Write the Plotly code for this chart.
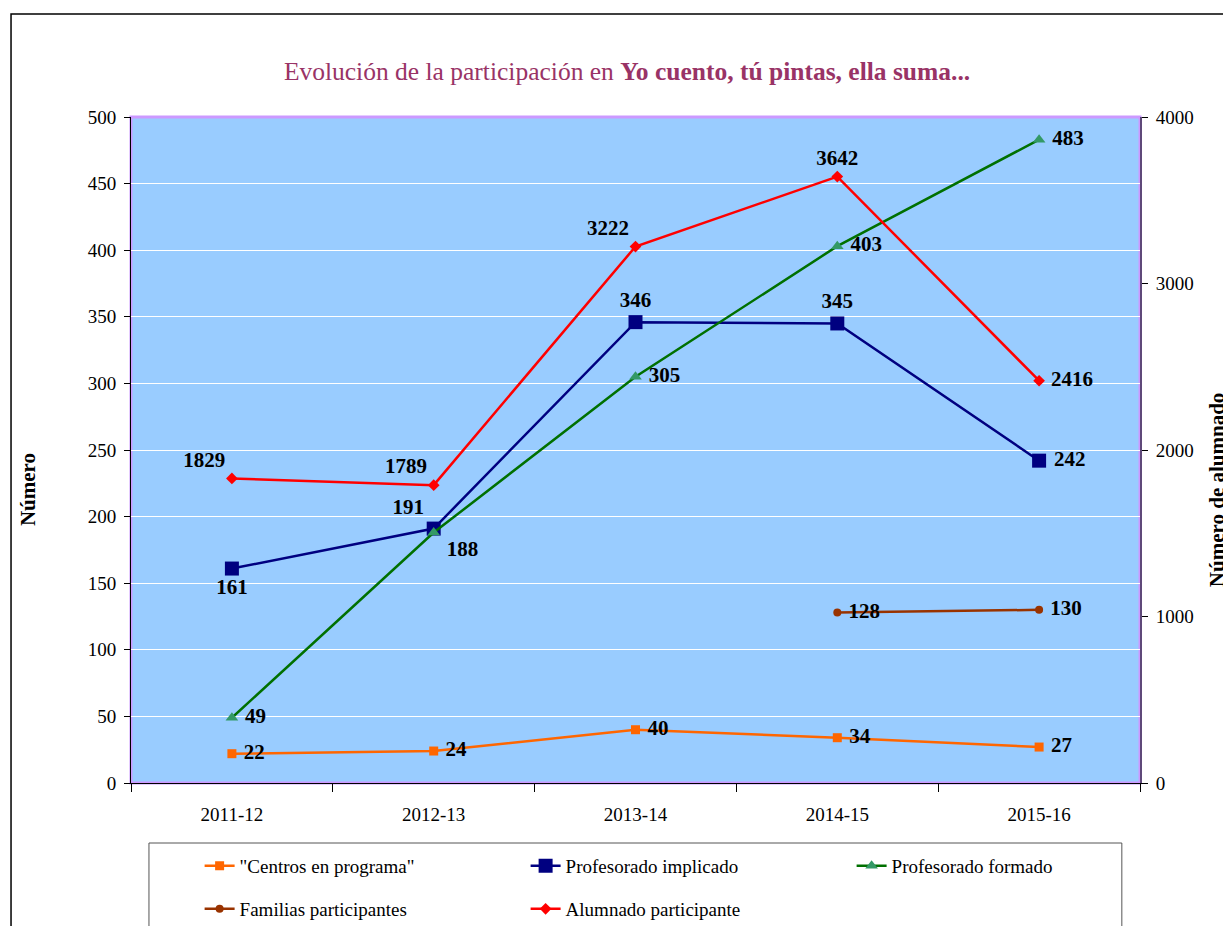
import plotly.graph_objects as go

categories = ["2011-12", "2012-13", "2013-14", "2014-15", "2015-16"]
centros = [22, 24, 40, 34, 27]
implicado = [161, 191, 346, 345, 242]
formado = [49, 188, 305, 403, 483]
familias = [None, None, None, 128, 130]
alumnado = [1829, 1789, 3222, 3642, 2416]

left_ticks = list(range(0, 501, 50))
right_ticks = [0, 1000, 2000, 3000, 4000]

FONT = "Liberation Serif"
lbl = dict(family=FONT, size=21, color="black", weight="bold")


def labels(values, positions):
    out = []
    for v, p in zip(values, positions):
        if v is None:
            out.append("")
        elif p.endswith("right"):
            out.append("\u2005" + str(v))
        else:
            out.append(str(v))
    return out


fig = go.Figure()

pos = ["middle right"] * 5
fig.add_trace(go.Scatter(
    x=categories, y=centros, name='"Centros en programa"', mode="lines+markers+text",
    line=dict(color="#FF6600", width=2.5), marker=dict(symbol="square", size=9, color="#FF6600"),
    text=labels(centros, pos), textposition=pos, textfont=lbl, legend="legend"))

pos = ["bottom center", "top left", "top center", "top center", "middle right"]
fig.add_trace(go.Scatter(
    x=categories, y=implicado, name="Profesorado implicado", mode="lines+markers+text",
    line=dict(color="#000080", width=2.5), marker=dict(symbol="square", size=14, color="#000080"),
    text=labels(implicado, pos), textposition=pos, textfont=lbl, legend="legend"))

pos = ["middle right", "bottom right", "middle right", "middle right", "middle right"]
fig.add_trace(go.Scatter(
    x=categories, y=formado, name="Profesorado formado", mode="lines+markers+text",
    line=dict(color="#007000", width=2.5), marker=dict(symbol="triangle-up", size=11, color="#339966"),
    text=labels(formado, pos), textposition=pos, textfont=lbl, legend="legend"))

pos = ["middle right"] * 5
fig.add_trace(go.Scatter(
    x=categories, y=familias, name="Familias participantes", mode="lines+markers+text",
    line=dict(color="#993300", width=2.5), marker=dict(symbol="circle", size=8, color="#993300"),
    text=labels(familias, pos), textposition=pos, textfont=lbl, legend="legend2"))

pos = ["top left", "top left", "top left", "top center", "middle right"]
fig.add_trace(go.Scatter(
    x=categories, y=alumnado, name="Alumnado participante", mode="lines+markers+text", yaxis="y2",
    line=dict(color="#FF0000", width=2.5), marker=dict(symbol="diamond", size=9, color="#FF0000"),
    text=labels(alumnado, pos), textposition=pos, textfont=lbl, legend="legend2"))

# plot area border (light purple)
fig.add_shape(type="rect", xref="x domain", yref="y domain", x0=0, x1=1, y0=0, y1=1,
              line=dict(color="#CC99FF", width=3), layer="below")
# outer chart frame
fig.add_shape(type="rect", xref="paper", yref="paper", x0=-0.1189, x1=1.2, y0=-0.35, y1=1.1547,
              line=dict(color="black", width=1.5))
# legend box
fig.add_shape(type="rect", xref="paper", yref="paper", x0=0.0178, x1=0.982, y0=-0.35, y1=-0.0901,
              line=dict(color="#555555", width=1))

fig.add_annotation(text="<b>Número</b>", xref="paper", yref="paper", x=-0.1020, y=0.44,
                   textangle=-90, showarrow=False, xanchor="center", yanchor="middle",
                   font=dict(family=FONT, size=21, color="black"))
fig.add_annotation(text="<b>Número de alumnado</b>", xref="paper", yref="paper", x=1.0765, y=0.44,
                   textangle=-90, showarrow=False, xanchor="center", yanchor="middle",
                   font=dict(family=FONT, size=21, color="black"))

leg_common = dict(orientation="h", xanchor="left", yanchor="middle", bgcolor="rgba(0,0,0,0)",
                  borderwidth=0, entrywidth=281, entrywidthmode="pixels",
                  font=dict(family=FONT, size=19, color="black"), x=0.068)

W, H = 1231 - 8, 926 - 8

fig.update_layout(
    width=W, height=H,
    margin=dict(l=123, r=91, t=109, b=143, autoexpand=False),
    paper_bgcolor="white", plot_bgcolor="#99CCFF",
    title=dict(text="Evolución de la participación en <b>Yo cuento, tú pintas, ella suma...</b>",
               font=dict(family=FONT, size=25.5, color="#993366"),
               x=0.4916, xref="paper", xanchor="center", y=1 - 63 / H, yref="container",
               yanchor="middle"),
    font=dict(family=FONT, size=19, color="black"),
    xaxis=dict(type="category", range=[-0.5, 4.5], tickson="boundaries", ticks="outside",
               ticklen=8, tickcolor="black", showline=True, linecolor="black", linewidth=1,
               showgrid=False, ticklabelstandoff=14, tickfont=dict(family=FONT, size=19)),
    yaxis=dict(range=[0, 500], tickvals=left_ticks, ticks="outside", ticklen=6, tickcolor="black",
               showline=True, linecolor="black", linewidth=1, gridcolor="white", gridwidth=1,
               zeroline=False, ticklabelstandoff=4, tickfont=dict(family=FONT, size=19)),
    yaxis2=dict(range=[0, 4000], tickvals=right_ticks, overlaying="y", side="right",
                ticks="outside", ticklen=6, tickcolor="black", showline=True, linecolor="#5F497A",
                linewidth=2, showgrid=False, zeroline=False, ticklabelstandoff=4,
                tickfont=dict(family=FONT, size=19)),
    legend=dict(**leg_common, y=(783 - 866) / 666),
    legend2=dict(**leg_common, y=(783 - 909) / 666),
    showlegend=True,
)

fig.write_html("out.html")
